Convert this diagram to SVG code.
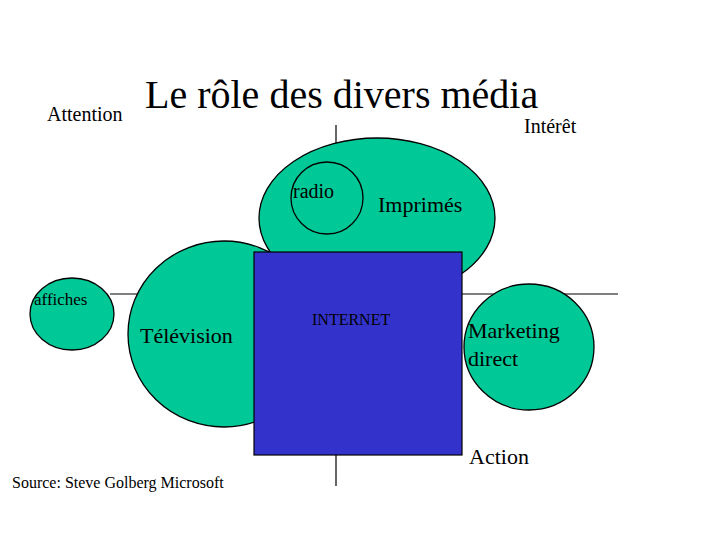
<svg xmlns="http://www.w3.org/2000/svg" width="720" height="540" viewBox="0 0 720 540">
<style>
.b{fill:#00c896;stroke:#000;stroke-width:1.3}
text{font-family:"Liberation Serif",serif;fill:#000}
.ax{stroke:#000;stroke-width:1.2}
</style>
<rect width="720" height="540" fill="#fff"/>
<g id="axes"><line class="ax" x1="336" y1="125" x2="336" y2="486"/><line class="ax" x1="110" y1="294" x2="618" y2="294"/></g>
<text x="145" y="108" font-size="40">Le rôle des divers média</text>
<text x="47" y="121" font-size="20">Attention</text>
<text x="524" y="133" font-size="20">Intérêt</text>
<g id="imprimes"><ellipse class="b" cx="377" cy="218" rx="118" ry="80"/><text x="378" y="212" font-size="22">Imprimés</text></g>
<g id="radio"><ellipse class="b" cx="327" cy="198" rx="36" ry="36"/><text x="293" y="198" font-size="20">radio</text></g>
<g id="television"><ellipse class="b" cx="224" cy="334" rx="96" ry="93"/><text x="140" y="343" font-size="22">Télévision</text></g>
<g id="affiches"><ellipse class="b" cx="72" cy="314" rx="42" ry="36"/><text x="34" y="305" font-size="17">affiches</text></g>
<g id="marketing"><ellipse class="b" cx="529" cy="347" rx="65" ry="63"/><text x="468" y="338" font-size="22">Marketing</text><text x="468" y="366" font-size="22">direct</text></g>
<g id="internet"><rect x="254" y="252" width="208" height="203" fill="#3333cc" stroke="#000" stroke-width="1.2"/><text x="312" y="325" font-size="16">INTERNET</text></g>
<text x="469" y="464" font-size="22">Action</text>
<text x="12" y="488" font-size="16">Source: Steve Golberg Microsoft</text>
</svg>
